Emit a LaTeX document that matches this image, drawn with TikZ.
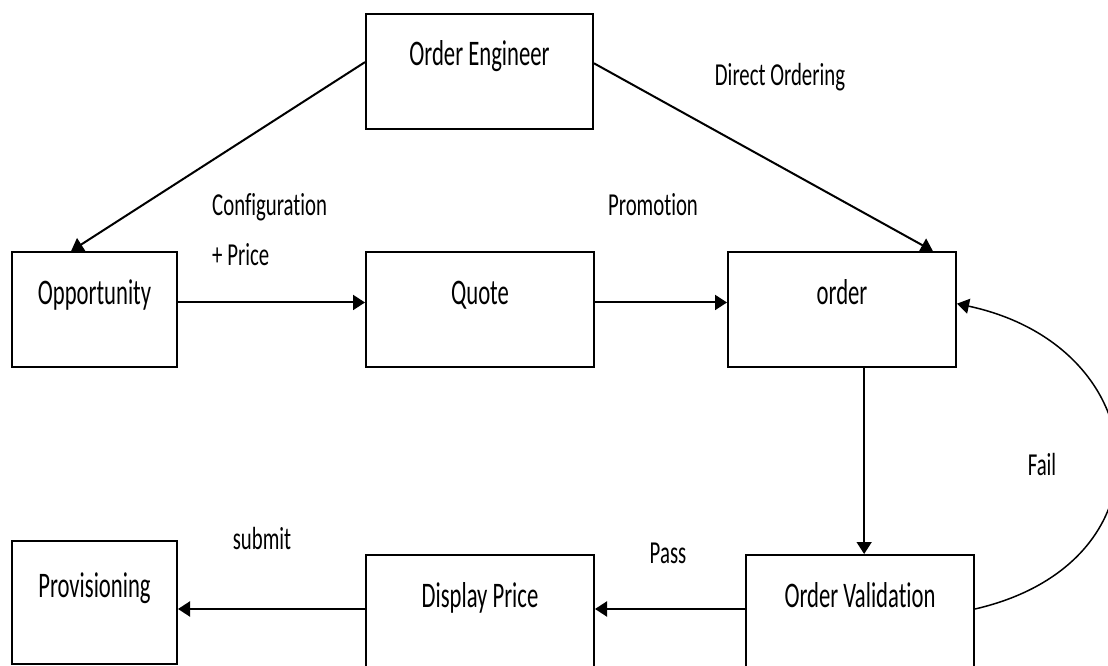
\documentclass[tikz,border=0pt]{standalone}
\usepackage{fontspec}
\newfontfamily\diafont{Carlito}[FakeStretch=0.63, Ligatures=NoCommon]
\newfontfamily\notefont{Carlito}[FakeStretch=0.65, Ligatures=NoCommon]
\usetikzlibrary{arrows.meta,calc}
\begin{document}
\begin{tikzpicture}[x=1pt,y=-1pt,
  stage/.style={draw=black, line width=2pt, inner sep=0pt, anchor=north west,
    minimum width=228pt, text height=52pt, text depth=63pt,
    font=\diafont\fontsize{36}{42}\selectfont},
  note/.style={inner sep=0pt, anchor=base, font=\notefont\fontsize{32}{38}\selectfont},
  flow/.style={draw=black, line width=2pt, -{Triangle[length=12pt,width=15pt]}},
  thinflow/.style={flow, line width=1.5pt}
]
\useasboundingbox (0,0) rectangle (1108,666);

% process stages
\node[stage, minimum width=227pt] (eng)   at (365,13)  {Order Engineer};
\node[stage, minimum width=165pt] (opp)   at (11,251)  {Opportunity};
\node[stage]                      (quote) at (365,251) {Quote};
\node[stage]                      (order) at (727,251) {order};
\node[stage, minimum width=165pt, text height=56pt, text depth=67pt] (prov) at (11,540) {Provisioning};
\node[stage]                      (price) at (365,554) {Display Price};
\node[stage]                      (valid) at (745,554) {Order Validation};

% connector labels
\node[note, anchor=base west] (lconf)  at (212,215) {Configuration};
\node[note, anchor=base west] (lprice) at (212,265) {+ Price};
\node[note] (lpromo)  at (653,215) {Promotion};
\node[note] (ldirect) at (780,86)  {Direct Ordering};
\node[note] (lsubmit) at (262,549) {submit};
\node[note] (lpass)   at (668,563) {Pass};
\node[note] (lfail)   at (1042,475) {Fail};

% attachment points
\coordinate (e1) at ($(eng.north west)!0.42!(eng.south west)$);
\coordinate (e2) at ($(eng.north east)!0.43!(eng.south east)$);
\coordinate (o1) at ($(opp.north west)!0.36!(opp.north east)$);
\coordinate (o2) at ($(order.north west)!0.895!(order.north east)$);
\coordinate (r1) at ($(opp.north east)!0.44!(opp.south east)$);
\coordinate (v1) at ($(valid.north west)!0.518!(valid.north east)$);
\coordinate (r2) at ($(valid.north west)!0.47!(valid.south west)$);
\coordinate (o3) at ($(order.north east)!0.45!(order.south east)$);

% connectors
\draw[flow] (e1) -- (o1);
\draw[flow] (e2) -- (o2);
\draw[flow] (r1) -- (quote.west |- r1);
\draw[flow] (quote.east |- r1) -- (order.west |- r1);
\draw[thinflow] (order.south -| v1) -- (v1);
\draw[flow] (valid.west |- r2) -- (price.east |- r2);
\draw[flow] (price.west |- r2) -- (prov.east |- r2);
\draw[thinflow] (valid.east |- r2) .. controls +(200,-46) and +(200,43) .. (o3);
\end{tikzpicture}
\end{document}
